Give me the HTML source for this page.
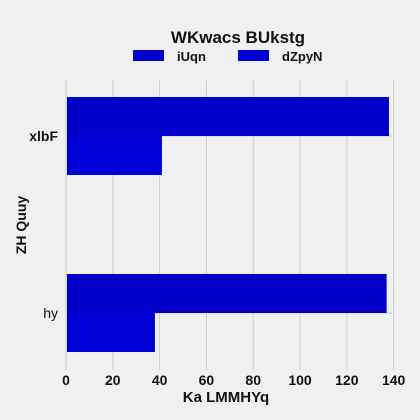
<!DOCTYPE html>
<html><head><meta charset="utf-8"><style>
body{margin:0;background:#f0f0f0;}
svg{display:block;font-family:"Liberation Sans",Arial,sans-serif;}
</style></head><body>
<svg id="c" width="420" height="420">
<rect width="420" height="420" fill="#f0f0f0"/>
<text x="238" y="43" text-anchor="middle" font-size="17" font-weight="bold" fill="#111">WKwacs  BUkstg</text>
<g>
<rect x="133" y="50" width="31" height="11" fill="#0000c8"/>
<text x="177" y="61" font-size="13" font-weight="bold" fill="#111">iUqn</text>
<rect x="238" y="50" width="31" height="11" fill="#0000d8"/>
<text x="282" y="61" font-size="13" font-weight="bold" fill="#111">dZpyN</text>
</g>
<g id="grid"></g><g id="bars"></g><g id="axes"></g>
<text x="226" y="402" text-anchor="middle" font-size="15" font-weight="bold" fill="#111">Ka LMMHYq</text>
<text transform="translate(26,225) rotate(-90)" text-anchor="middle" font-size="14" font-weight="bold" fill="#111">ZH Quuy</text>
</svg>
<script>
const categories = ["xlbF","hy"];
const seriesNames = ["iUqn","dZpyN"];
const iUqnValues = [138, 137];
const dZpyNValues = [41, 38];
const xTicks = [0,20,40,60,80,100,120,140];
const colors = ["#0000c8","#0000d8"];
const NS="http://www.w3.org/2000/svg";
const x0=66, x1=392, xMax=139.3;
const xs=v=>x0+(v/xMax)*(x1-x0);
const catCenter=[136,313];
const ys=i=>catCenter[i];
const barH=39;
function mk(tag,attrs,parent){const e=document.createElementNS(NS,tag);for(const k in attrs)e.setAttribute(k,attrs[k]);parent.appendChild(e);return e;}
const grid=document.getElementById('grid'),bars=document.getElementById('bars'),axes=document.getElementById('axes');
xTicks.forEach(t=>{
  const l=mk('line',{x1:xs(t),x2:xs(t),y1:80,y2:370,stroke:'#cbcbcb','stroke-width':1},grid);
  
  
  const tx=mk('text',{x:xs(t),y:385,'text-anchor':'middle','font-size':14,'font-weight':'bold',fill:'#111'},axes);
  tx.textContent=t;
  
  
});
categories.forEach((c,i)=>{
  const g=mk('line',{x1:x0,x2:x1,y1:ys(i),y2:ys(i),stroke:'#cbcbcb','stroke-width':1},grid);
  
  
  [iUqnValues,dZpyNValues].forEach((arr,s)=>{
    const y=s===0?ys(i)-barH:ys(i);
    const r=mk('rect',{x:x0+1,y:y,width:xs(arr[i])-x0-1,height:barH,fill:colors[s]},bars);
    
    
  });
  const t=mk('text',{x:58,y:ys(i)+5,'text-anchor':'end','font-size':14,'font-weight':i===0?'bold':'normal',fill:'#111'},axes);
  t.textContent=c;
  
  
});
</script>
</body></html>
